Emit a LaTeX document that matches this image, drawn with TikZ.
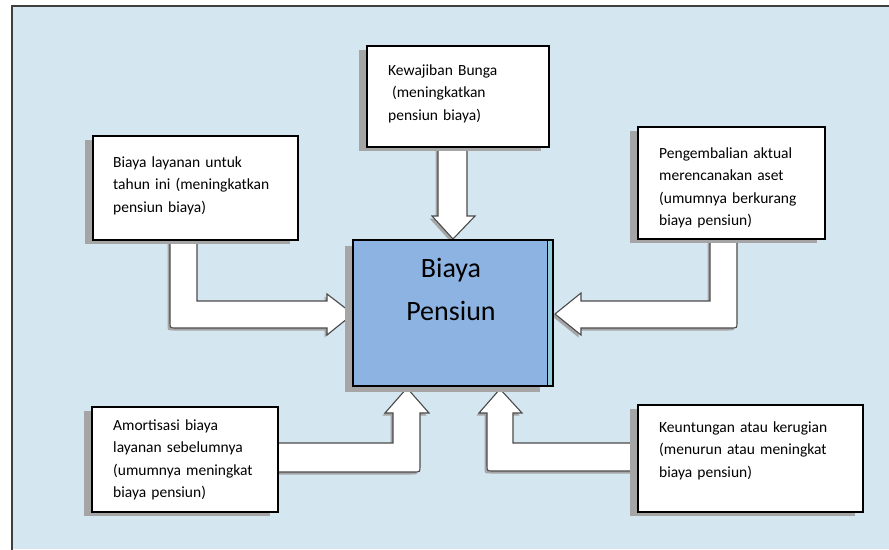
\documentclass[tikz,border=0pt]{standalone}
\usepackage{fontspec}
\setmainfont{Carlito}
\usetikzlibrary{shadows}
\definecolor{bg}{HTML}{D4E6F0}
\definecolor{cbox}{HTML}{8DB3E2}
\definecolor{stripc}{HTML}{93CDDD}
\definecolor{framec}{HTML}{3F3F3F}
\definecolor{shd}{HTML}{A5A5A5}
\definecolor{aline}{HTML}{4A4A4A}
\begin{document}
\begin{tikzpicture}[x=1pt,y=-1pt,
  infobox/.style={draw=black, line width=1.3pt, fill=white, inner sep=0pt, outer sep=0pt, anchor=north west,
     drop shadow={shadow xshift=-8pt, shadow yshift=-4pt, fill=shd, opacity=1}},
  infotext/.style={anchor=base west, inner sep=0pt, align=left, text width=220pt, font=\fontsize{15.5}{22.5}\selectfont},
  blockarrow/.style={fill=white, draw=aline, line width=1.1pt, line join=miter,
     drop shadow={shadow xshift=-2.5pt, shadow yshift=-2.5pt, fill=shd, opacity=1}},
  bigtext/.style={anchor=base, inner sep=0pt, font=\fontsize{28}{43}\selectfont}
]
\useasboundingbox (0,0) rectangle (889,549);
\fill[white] (0,0) rectangle (889,549);
\fill[bg] (12,6) rectangle (889,549);
\draw[framec, line width=2.5pt] (12,552) -- (12,6) -- (892,6);

% block arrows
\path[blockarrow] (197,240) -- (197,301) -- (327,301) -- (327,294) -- (353,314) -- (327,335) -- (327,328)
  -- (176,328) .. controls (170,328) .. (170,322) -- (170,240);
\path[blockarrow] (710,239) -- (710,301) -- (581,301) -- (581,293) -- (555,314) -- (581,335) -- (581,328)
  -- (731,328) .. controls (737,328) .. (737,322) -- (737,239);
\path[blockarrow] (438,147) -- (438,216) -- (432,216) -- (453,239) -- (475,216) -- (467,216) -- (467,147);
\path[blockarrow] (278,443) -- (393,443) -- (393,413) -- (385,413) -- (407,388) -- (429,413) -- (420,413)
  -- (420,466) .. controls (420,472) .. (414,472) -- (278,472);
\path[blockarrow] (638,443) -- (513,443) -- (513,413) -- (522,413) -- (500,389) -- (479,413) -- (487,413)
  -- (487,465) .. controls (487,471) .. (493,471) -- (638,471);

% boxes
\node[infobox, minimum width=182pt, minimum height=101pt] (top) at (367,46) {};
\node[infobox, minimum width=205pt, minimum height=104pt] (lt) at (93,136) {};
\node[infobox, minimum width=187pt, minimum height=112pt] (rt) at (638,127) {};
\node[infobox, minimum width=186pt, minimum height=105pt] (lb) at (92,407) {};
\node[infobox, minimum width=225pt, minimum height=107pt] (rb) at (638,405) {};

\node[infotext] (toptxt) at (388,75) {Kewajiban Bunga\\\hspace*{0.25em}(meningkatkan\\pensiun biaya)};
\node[infotext] (lttxt) at (113,167) {Biaya layanan untuk\\tahun ini (meningkatkan\\pensiun biaya)};
\node[infotext] (rttxt) at (659,158) {Pengembalian aktual\\merencanakan aset\\(umumnya berkurang\\biaya pensiun)};
\node[infotext] (lbtxt) at (113,430) {Amortisasi biaya\\layanan sebelumnya\\(umumnya meningkat\\biaya pensiun)};
\node[infotext] (rbtxt) at (659,432) {Keuntungan atau kerugian\\(menurun atau meningkat\\biaya pensiun)};

% central box
\node[draw=black, line width=1.3pt, fill=cbox, inner sep=0pt, outer sep=0pt, anchor=north west,
  minimum width=195pt, minimum height=146pt,
  drop shadow={shadow xshift=-8pt, shadow yshift=-6pt, fill=gray!70, opacity=1}] (pc) at (353,240) {};
\fill[stripc] (548,241) rectangle (553,386);
\draw[black, line width=1.1pt] (548,240) -- (553,240) -- (553,386) -- (548,386);
\node[bigtext] (pc1) at (451,277) {Biaya};
\node[bigtext] (pc2) at (451,320) {Pensiun};
\end{tikzpicture}
\end{document}
